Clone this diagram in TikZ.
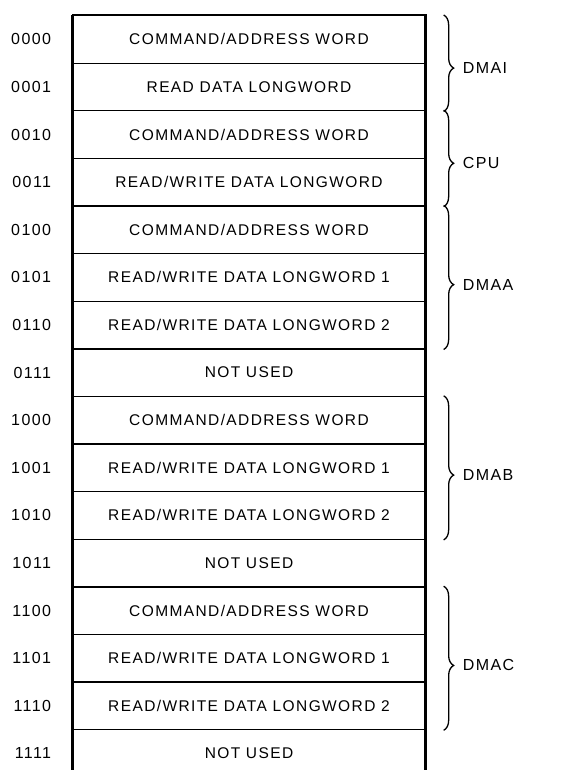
\documentclass[tikz,border=0pt]{standalone}
\usepackage{fontspec}
\setmainfont{Liberation Sans}
\newfontfamily\lblfont[LetterSpace=9]{Liberation Sans}
\usetikzlibrary{decorations.pathreplacing,calc}
\tikzset{
  rowbox/.style={draw, line width=1.3pt, minimum width=352pt, minimum height=47.6pt, inner sep=0pt, font=\lblfont\fontsize{15.5}{17}\selectfont, anchor=north},
  addr/.style={anchor=east, inner sep=0pt, font=\lblfont\fontsize{16}{18}\selectfont},
  grp/.style={anchor=west, inner sep=0pt, font=\lblfont\fontsize{16}{18}\selectfont},
  bracket/.style={decorate, decoration={brace, amplitude=10pt, aspect=0.55}, line width=1.3pt}
}
\begin{document}
\begin{tikzpicture}[x=1pt, y=-1pt]
\clip (0,0) rectangle (562,770);
\fill[white] (0,0) rectangle (562,770);
\foreach \i/\a/\t in {0/0000/{COMMAND/ADDRESS WORD},
                      1/0001/{READ DATA LONGWORD},
                      2/0010/{COMMAND/ADDRESS WORD},
                      3/0011/{READ/WRITE DATA LONGWORD},
                      4/0100/{COMMAND/ADDRESS WORD},
                      5/0101/{READ/WRITE DATA LONGWORD 1},
                      6/0110/{READ/WRITE DATA LONGWORD 2},
                      7/0111/{NOT USED},
                      8/1000/{COMMAND/ADDRESS WORD},
                      9/1001/{READ/WRITE DATA LONGWORD 1},
                      10/1010/{READ/WRITE DATA LONGWORD 2},
                      11/1011/{NOT USED},
                      12/1100/{COMMAND/ADDRESS WORD},
                      13/1101/{READ/WRITE DATA LONGWORD 1},
                      14/1110/{READ/WRITE DATA LONGWORD 2},
                      15/1111/{NOT USED}} {
  \node[rowbox] (r\i) at (249, {15+47.6*\i}) {\t};
  \node[addr] (a\i) at ($(r\i.west)+(-21pt,0)$) {\a};
}
% thicker outer border
\draw[line width=2.2pt] (r0.north west) -- (r0.north east) -- (r15.south east);
\draw[line width=2.2pt] (r0.north west) -- (r15.south west);
% braces
\foreach \k/\s/\e/\n in {0/0/1/DMAI, 1/2/3/CPU, 2/4/6/DMAA, 3/8/10/DMAB, 4/12/14/DMAC} {
  \coordinate (bt\k) at ($(r\s.north east)+(18pt,0)$);
  \coordinate (bb\k) at ($(r\e.south east)+(18pt,0)$);
  \draw[bracket] (bt\k) -- (bb\k);
  \node[grp] (g\k) at ($(bt\k)!0.55!(bb\k)+(19pt,0)$) {\n};
}
\end{tikzpicture}
\end{document}
